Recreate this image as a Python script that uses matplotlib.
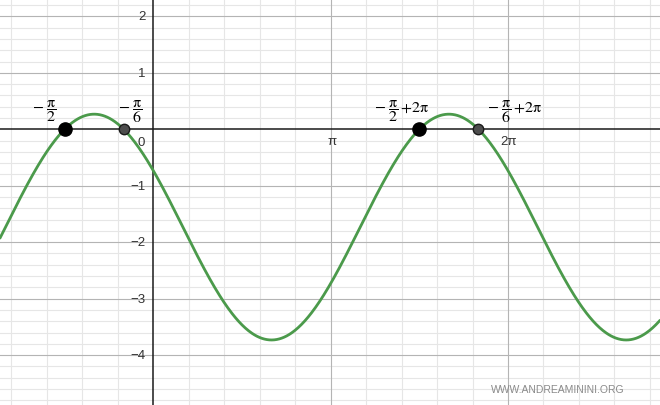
import numpy as np
import matplotlib
matplotlib.use("Agg")
import matplotlib.pyplot as plt

# function shown: y = A*sin(x + phase) + offset
AMPLITUDE = 2.0
PHASE = 5 * np.pi / 6
OFFSET = -np.sqrt(3)

# marked zeros and their labels
zero_x = [-np.pi / 2, -np.pi / 6, -np.pi / 2 + 2 * np.pi, -np.pi / 6 + 2 * np.pi]
zero_labels = [r'$-\;\dfrac{\pi}{2}$', r'$-\;\dfrac{\pi}{6}$',
               r'$-\;\dfrac{\pi}{2}\,{+}2\pi$', r'$-\;\dfrac{\pi}{6}\,{+}2\pi$']
zero_big = [True, False, True, False]

# axis tick labels
y_ticks = [2, 1, -1, -2, -3, -4]
x_ticks = [np.pi, 2 * np.pi]
x_tick_labels = ['π', '2π']

plt.rcParams['mathtext.fontset'] = 'stix'
plt.rcParams['mathtext.default'] = 'rm'
plt.rcParams['font.family'] = ['Liberation Sans', 'DejaVu Sans']

PX = 56.45           # pixels per unit
X0, Y0 = 153.3, 130.3  # origin in pixels
W, H = 660, 406

fig = plt.figure(figsize=(W / 100, H / 100), dpi=100)
ax = fig.add_axes([0, 0, 1, 1])
ax.set_xlim(-X0 / PX, (W - X0) / PX)
ax.set_ylim(-(H - Y0) / PX, Y0 / PX)
for s in ax.spines.values():
    s.set_visible(False)
ax.set_xticks([])
ax.set_yticks([])

# grid
xmin, xmax = ax.get_xlim()
ymin, ymax = ax.get_ylim()
for k in range(-5, 16):
    xv = k * np.pi / 5
    if xmin < xv < xmax and k != 0:
        major = k % 5 == 0
        ax.axvline(xv, color='#b4b4b4' if major else '#e6e6e6',
                   lw=0.8, zorder=1 if major else 0)
for k in range(-25, 13):
    yv = k * 0.2
    if ymin < yv < ymax and k != 0:
        major = k % 5 == 0
        ax.axhline(yv, color='#b4b4b4' if major else '#e6e6e6',
                   lw=0.8, zorder=1 if major else 0)

ax.axhline(0, color='#1a1a1a', lw=1.1, zorder=2)
ax.axvline(0, color='#1a1a1a', lw=1.1, zorder=2)

# tick labels
for yv in y_ticks:
    ax.annotate(f'{yv}'.replace('-', '\u2212'), (0, yv), xytext=(-8, 0),
                textcoords='offset pixels', ha='right', va='center',
                fontsize=9.5, color='#333333')
ax.annotate('0', (0, 0), xytext=(-8, -7), textcoords='offset pixels',
            ha='right', va='top', fontsize=9.5, color='#333333')
for xv, lab in zip(x_ticks, x_tick_labels):
    ax.annotate(lab, (xv, 0), xytext=(1, -6), textcoords='offset pixels',
                ha='center', va='top', fontsize=9.5, color='#333333')

# curve
xs = np.linspace(xmin, xmax, 800)
ax.plot(xs, AMPLITUDE * np.sin(xs + PHASE) + OFFSET,
        color='#4b9a4b', lw=2.0, zorder=3, solid_capstyle='round')

# zeros
offsets = [(-33, 19), (-6, 19), (-45, 19), (9, 19)]
for xv, lab, big, off in zip(zero_x, zero_labels, zero_big, offsets):
    if big:
        ax.plot(xv, 0, 'o', ms=9.5, mfc='black', mec='black', zorder=5)
    else:
        ax.plot(xv, 0, 'o', ms=7.5, mfc='#4d4d4d', mec='#1a1a1a',
                mew=1.0, zorder=5)
    ax.annotate(lab, (xv, 0), xytext=off, textcoords='offset pixels',
                ha='left', va='center', fontsize=11.5, color='black', zorder=6)

fig.text(558 / W, 1 - 390 / H, 'WWW.ANDREAMININI.ORG', ha='center',
         va='center', fontsize=7.5, color='#8a8a8a')

fig.savefig('out.png', dpi=100)
